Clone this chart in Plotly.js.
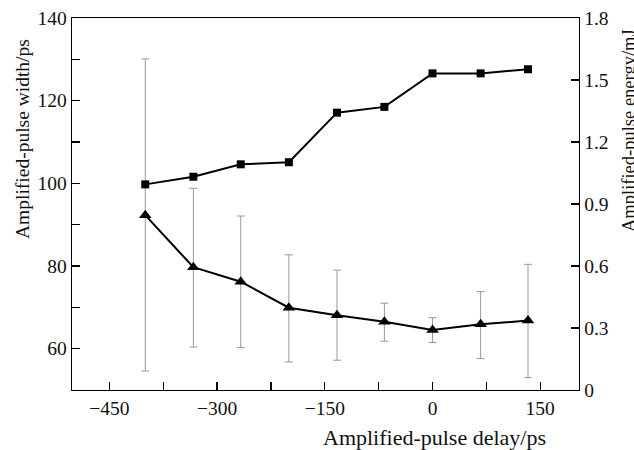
<!DOCTYPE html>
<html>
<head>
<meta charset="utf-8">
<script src="https://cdn.plot.ly/plotly-3.0.1.min.js"></script>
<style>html,body{margin:0;padding:0;background:#fff;}#chart{width:634px;height:450px;}</style>
</head>
<body>
<div id="chart"></div>
<script>
// Data
const delay = [-400, -333, -267, -200, -133, -67, 0, 67, 133];
const pulseWidth = [92.3, 79.7, 76.2, 69.9, 68.1, 66.5, 64.5, 65.9, 66.8];
const widthErrPlus = [37.8, 19.1, 15.9, 12.8, 10.9, 4.5, 3.0, 7.9, 13.6];
const widthErrMinus = [37.7, 19.3, 15.9, 13.1, 10.9, 4.7, 3.0, 8.3, 13.8];
const pulseEnergy = [0.995, 1.032, 1.092, 1.102, 1.342, 1.370, 1.532, 1.532, 1.552];

const xTickVals = [-450, -300, -150, 0, 150];
const yTickVals = [60, 80, 100, 120, 140];
const y2TickVals = [0, 0.3, 0.6, 0.9, 1.2, 1.5, 1.8];

const FONT = 'Liberation Serif, Times New Roman, serif';
const fs = 19.5;

const traces = [
  {
    x: delay, y: pulseWidth, type: 'scatter', mode: 'lines+markers',
    yaxis: 'y',
    line: {color: '#000', width: 2},
    marker: {symbol: 'triangle-up', size: 11, color: '#000'},
    error_y: {type: 'data', symmetric: false, array: widthErrPlus, arrayminus: widthErrMinus,
              color: '#999', thickness: 1, width: 4},
    showlegend: false, cliponaxis: false
  },
  {
    x: delay, y: pulseEnergy, type: 'scatter', mode: 'lines+markers',
    yaxis: 'y2',
    line: {color: '#000', width: 2},
    marker: {symbol: 'square', size: 8, color: '#000'},
    showlegend: false, cliponaxis: false
  }
];

const axisCommon = {
  showgrid: false, zeroline: false, showline: true, linecolor: '#000', linewidth: 1.3,
  ticks: 'inside', ticklen: 8, tickwidth: 1.3, tickcolor: '#000',
  tickfont: {family: FONT, size: fs, color: '#111'}
};

const layout = {
  width: 634, height: 450,
  margin: {l: 72, r: 55, t: 18, b: 60},
  paper_bgcolor: '#fff', plot_bgcolor: '#fff',
  font: {family: FONT, size: fs, color: '#111'},
  xaxis: Object.assign({}, axisCommon, {
    range: [-502, 204], tickmode: 'array', tickvals: xTickVals,
    mirror: true,
    minor: {dtick: 75, tick0: -450, ticks: 'inside', ticklen: 8, tickwidth: 1.3, tickcolor: '#000'}
  }),
  yaxis: Object.assign({}, axisCommon, {
    range: [50, 140], tickmode: 'array', tickvals: yTickVals,
    minor: {dtick: 10, tick0: 50, ticks: 'inside', ticklen: 8, tickwidth: 1.3, tickcolor: '#000'}
  }),
  yaxis2: Object.assign({}, axisCommon, {
    range: [0, 1.8], tickmode: 'array', tickvals: y2TickVals,
    ticktext: y2TickVals.map(v => String(v)),
    overlaying: 'y', side: 'right'
  }),
  annotations: [
    {text: 'Amplified-pulse delay/ps', xref: 'paper', yref: 'paper', x: (434 - 72) / 507, y: -(437 - 390) / 372,
     xanchor: 'center', yanchor: 'middle', showarrow: false, font: {family: FONT, size: 22, color: '#111'}},
    {text: 'Amplified-pulse width/ps', xref: 'paper', yref: 'paper', x: (22 - 72) / 507, y: (390 - 139) / 372,
     xanchor: 'center', yanchor: 'middle', textangle: -90, showarrow: false, font: {family: FONT, size: 19.5, color: '#111'}},
    {text: 'Amplified-pulse energy/mJ', xref: 'paper', yref: 'paper', x: (629 - 72) / 507, y: (390 - 131) / 372,
     xanchor: 'center', yanchor: 'middle', textangle: -90, showarrow: false, font: {family: FONT, size: 18.5, color: '#111'}}
  ]
};

Plotly.newPlot('chart', traces, layout, {displayModeBar: false, staticPlot: true});
</script>
</body>
</html>
